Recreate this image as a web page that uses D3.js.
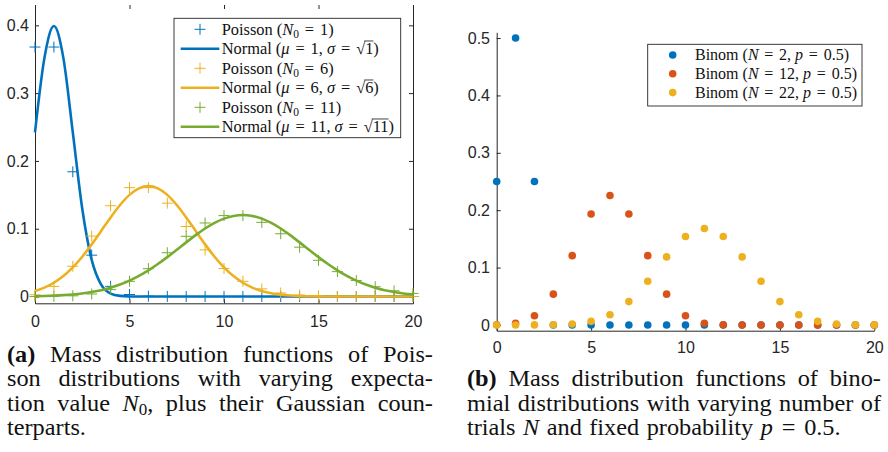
<!DOCTYPE html>
<html>
<head>
<meta charset="utf-8">
<script src="https://cdn.jsdelivr.net/npm/d3@7"></script>
<style>
  body { margin: 0; background: #fff; }
  svg { display: block; }
</style>
</head>
<body>
<div id="chart"></div>
<script>
// ---- data ----
const kValues = [0, 1, 2, 3, 4, 5, 6, 7, 8, 9, 10, 11, 12, 13, 14, 15, 16, 17, 18, 19, 20];

const poisson1 = [0.368, 0.368, 0.184, 0.061, 0.015, 0.003, 0.0005, 0.0001, 0, 0, 0, 0, 0, 0, 0, 0, 0, 0, 0, 0, 0];
const poisson6 = [0.0025, 0.0149, 0.0446, 0.0892, 0.1339, 0.1606, 0.1606, 0.1377, 0.1033, 0.0688, 0.0413, 0.0225, 0.0113, 0.0052, 0.0022, 0.0009, 0.0003, 0.0001, 0, 0, 0];
const poisson11 = [0, 0.0002, 0.001, 0.0037, 0.0102, 0.0224, 0.0411, 0.0646, 0.0888, 0.1085, 0.1194, 0.1194, 0.1094, 0.0926, 0.0728, 0.0534, 0.0367, 0.0237, 0.0145, 0.0084, 0.0046];

const normalX = [0, 0.5, 1, 1.5, 2, 2.5, 3, 3.5, 4, 4.5, 5, 5.5, 6, 6.5, 7, 7.5, 8, 8.5, 9, 9.5, 10,
  10.5, 11, 11.5, 12, 12.5, 13, 13.5, 14, 14.5, 15, 15.5, 16, 16.5, 17, 17.5, 18, 18.5, 19, 19.5, 20];
const normal1 = [0.242, 0.352, 0.399, 0.352, 0.242, 0.1295, 0.054, 0.0175, 0.0044, 0.0009, 0.0001,
  0, 0, 0, 0, 0, 0, 0, 0, 0, 0, 0, 0, 0, 0, 0, 0, 0, 0, 0, 0, 0, 0, 0, 0, 0, 0, 0, 0, 0, 0];
const normal6 = [0.0081, 0.0131, 0.0203, 0.0301, 0.0429, 0.0587, 0.0769, 0.0968, 0.1167, 0.135, 0.1499, 0.1595, 0.1629,
  0.1595, 0.1499, 0.135, 0.1167, 0.0968, 0.0769, 0.0587, 0.0429, 0.0301, 0.0203, 0.0131, 0.0081,
  0.0048, 0.0028, 0.0015, 0.0008, 0.0004, 0.0002, 0.0001, 0, 0, 0, 0, 0, 0, 0, 0, 0];
const normal11 = [0.0005, 0.0008, 0.0013, 0.002, 0.003, 0.0045, 0.0066, 0.0093, 0.013, 0.0176, 0.0234, 0.0304,
  0.0386, 0.0479, 0.0581, 0.0689, 0.0799, 0.0905, 0.1003, 0.1086, 0.1149, 0.1189, 0.1203,
  0.1189, 0.1149, 0.1086, 0.1003, 0.0905, 0.0799, 0.0689, 0.0581, 0.0479, 0.0386, 0.0304, 0.0234,
  0.0176, 0.013, 0.0093, 0.0066, 0.0045, 0.003];

const binom2 = [0.25, 0.5, 0.25, 0, 0, 0, 0, 0, 0, 0, 0, 0, 0, 0, 0, 0, 0, 0, 0, 0, 0];
const binom12 = [0.0002, 0.0029, 0.0161, 0.0537, 0.1208, 0.1934, 0.2256, 0.1934, 0.1208, 0.0537, 0.0161, 0.0029, 0.0002, 0, 0, 0, 0, 0, 0, 0, 0];
const binom22 = [0, 0, 0.0001, 0.0004, 0.0017, 0.0063, 0.0178, 0.0407, 0.0762, 0.1186, 0.1542, 0.1682, 0.1542, 0.1186, 0.0762, 0.0407, 0.0178, 0.0063, 0.0017, 0.0004, 0.0001];

const xTicks = [0, 5, 10, 15, 20];
const yTicksA = [0, 0.1, 0.2, 0.3, 0.4];
const yTicksB = [0, 0.1, 0.2, 0.3, 0.4, 0.5];

// label pieces: t = text, i = italic, sub = subscript, ov = overline, b = bold, eq = wide "=" sign
const EQ = { t: "=", eq: 1 };
const legendA = [
  [{ t: "Poisson (" }, { t: "N", i: 1 }, { t: "0", sub: 1 }, EQ, { t: "1)" }],
  [{ t: "Normal (" }, { t: "μ", i: 1 }, EQ, { t: "1, " }, { t: "σ", i: 1 }, EQ, { t: "√" }, { t: "1", ov: 1 }, { t: ")" }],
  [{ t: "Poisson (" }, { t: "N", i: 1 }, { t: "0", sub: 1 }, EQ, { t: "6)" }],
  [{ t: "Normal (" }, { t: "μ", i: 1 }, EQ, { t: "6, " }, { t: "σ", i: 1 }, EQ, { t: "√" }, { t: "6", ov: 1 }, { t: ")" }],
  [{ t: "Poisson (" }, { t: "N", i: 1 }, { t: "0", sub: 1 }, EQ, { t: "11)" }],
  [{ t: "Normal (" }, { t: "μ", i: 1 }, EQ, { t: "11, " }, { t: "σ", i: 1 }, EQ, { t: "√" }, { t: "11", ov: 1 }, { t: ")" }]
];
const legendB = [
  [{ t: "Binom (" }, { t: "N", i: 1 }, EQ, { t: "2, " }, { t: "p", i: 1 }, EQ, { t: "0.5)" }],
  [{ t: "Binom (" }, { t: "N", i: 1 }, EQ, { t: "12, " }, { t: "p", i: 1 }, EQ, { t: "0.5)" }],
  [{ t: "Binom (" }, { t: "N", i: 1 }, EQ, { t: "22, " }, { t: "p", i: 1 }, EQ, { t: "0.5)" }]
];

const captionA = [
  [[{ t: "(a)", b: 1 }], "Mass", "distribution", "functions", "of", "Pois-"],
  ["son", "distributions", "with", "varying", "expecta-"],
  ["tion", "value", [{ t: "N", i: 1 }, { t: "0", sub: 1 }, { t: "," }], "plus", "their", "Gaussian", "coun-"],
  ["terparts."]
];
const captionB = [
  [[{ t: "(b)", b: 1 }], "Mass", "distribution", "functions", "of", "bino-"],
  ["mial", "distributions", "with", "varying", "number", "of"],
  ["trials", [{ t: "N", i: 1 }], "and", "fixed", "probability", [{ t: "p", i: 1 }, EQ, { t: "0.5." }]]
];

const blue = "#0072BD", orange = "#D95319", yellow = "#EDB120", green = "#77AC30";
const ink = "#262626";
const serif = "'Liberation Serif', 'Times New Roman', serif";
const sans = "'Liberation Sans', Arial, Helvetica, sans-serif";

const svg = d3.select("#chart").append("svg")
  .attr("width", 888)
  .attr("height", 452);

// draws a run of label pieces starting at (x, y); returns its width
function rich(g, x, y, pieces, size) {
  let cx = x;
  pieces.forEach(p => {
    const fs = p.sub ? size * 0.7 : size;
    const pad = p.eq ? size * 0.36 : 0;
    cx += pad;
    const t = g.append("text")
      .attr("x", cx)
      .attr("y", y + (p.sub ? size * 0.2 : 0))
      .attr("font-family", serif)
      .attr("font-size", fs)
      .attr("font-style", p.i ? "italic" : "normal")
      .attr("font-weight", p.b ? "bold" : "normal")
      .attr("fill", "#111")
      .style("white-space", "pre")
      .text(p.t);
    const w = t.node().getComputedTextLength();
    if (p.ov) {
      g.append("line")
        .attr("x1", cx - 1).attr("x2", cx + w)
        .attr("y1", y - size * 0.8).attr("y2", y - size * 0.8)
        .attr("stroke", "#111").attr("stroke-width", 0.8);
    }
    cx += w + pad;
  });
  return cx - x;
}

// justified caption; words are widened a little (Computer Modern is wider than Times)
function paragraph(lines, x, y0, width, lineGap, size, stretch) {
  lines.forEach((words, li) => {
    const y = y0 + li * lineGap;
    const parts = words.map(w => {
      const gg = svg.append("g");
      const wd = rich(gg, 0, 0, typeof w === "string" ? [{ t: w }] : w, size) * stretch;
      return { gg, wd };
    });
    const total = d3.sum(parts, d => d.wd);
    const last = li === lines.length - 1;
    const gap = last ? size * 0.33 : (width - total) / (parts.length - 1);
    let cx = x;
    parts.forEach(d => {
      d.gg.attr("transform", "translate(" + cx + "," + y + ") scale(" + stretch + ",1)");
      cx += d.wd + gap;
    });
  });
}

// natural width of a caption line, used to pick one common widening factor
function lineWidth(words, size) {
  const tmp = svg.append("g");
  const w = d3.sum(words, wd => rich(tmp, 0, 0, typeof wd === "string" ? [{ t: wd }] : wd, size));
  tmp.remove();
  return w;
}

function styleAxis(g) {
  g.selectAll("path.domain").attr("stroke", ink).attr("stroke-width", 1);
  g.selectAll(".tick line").attr("stroke", ink).attr("stroke-width", 1);
  g.selectAll(".tick text").attr("fill", ink).attr("font-family", sans).attr("font-size", 16);
}

const yFmt = d => (d === 0 ? "0" : d3.format(".1f")(d));

// ---- panel (a) ----
const xA = d3.scaleLinear().domain([0, 20]).range([35, 413]);
const yA = d3.scaleLinear().domain([-0.01, 0.43]).range([303.3, 5]);

svg.append("g")
  .attr("transform", "translate(" + xA(0) + ",0)")
  .call(d3.axisLeft(yA).tickValues(yTicksA).tickFormat(yFmt).tickSizeInner(-4).tickSizeOuter(0).tickPadding(6))
  .call(styleAxis);
svg.append("g")
  .attr("transform", "translate(" + xA(20) + ",0)")
  .call(d3.axisRight(yA).tickValues(yTicksA).tickFormat("").tickSizeInner(-4).tickSizeOuter(0))
  .call(styleAxis);
svg.append("g")
  .attr("transform", "translate(0," + yA.range()[0] + ")")
  .call(d3.axisBottom(xA).tickValues(xTicks).tickSizeInner(-4).tickSizeOuter(0).tickPadding(12.6))
  .call(styleAxis);
svg.append("g")
  .attr("transform", "translate(0," + yA.range()[1] + ")")
  .call(d3.axisTop(xA).tickValues(xTicks).tickFormat("").tickSizeInner(-4).tickSizeOuter(0))
  .call(styleAxis)
  .call(g => g.select("path.domain").remove());

const crossPath = (cx, cy, s) => "M" + (cx - s) + "," + cy + "H" + (cx + s) + "M" + cx + "," + (cy - s) + "V" + (cy + s);

const seriesA = [
  { pts: poisson1, line: normal1, color: blue },
  { pts: poisson6, line: normal6, color: yellow },
  { pts: poisson11, line: normal11, color: green }
];
const normLine = d3.line()
  .x((d, i) => xA(normalX[i]))
  .y(d => yA(d))
  .curve(d3.curveMonotoneX);

seriesA.forEach(s => {
  svg.append("g")
    .selectAll("path")
    .data(s.pts)
    .enter()
    .append("path")
    .attr("d", (d, i) => crossPath(xA(kValues[i]), yA(d), 5.5))
    .attr("stroke", s.color)
    .attr("stroke-width", 1)
    .attr("fill", "none");
  svg.append("path")
    .datum(s.line)
    .attr("d", normLine)
    .attr("fill", "none")
    .attr("stroke", s.color)
    .attr("stroke-width", 2.6);
});

// legend (a)
const legA = svg.append("g");
legA.append("rect")
  .attr("x", 174).attr("y", 18.3).attr("width", 226.7).attr("height", 119.4)
  .attr("fill", "#fff").attr("stroke", ink).attr("stroke-width", 0.9);
legendA.forEach((lab, i) => {
  const y = 29.3 + i * 19.5;
  const color = seriesA[Math.floor(i / 2)].color;
  if (i % 2 === 0) {
    legA.append("path").attr("d", crossPath(200, y, 5.5)).attr("stroke", color).attr("stroke-width", 1);
  } else {
    legA.append("line").attr("x1", 180.7).attr("x2", 219.3).attr("y1", y).attr("y2", y)
      .attr("stroke", color).attr("stroke-width", 2.6);
  }
  rich(legA, 221.7, y + 5.3, lab, 16.4);
});

// ---- panel (b) ----
const xB = d3.scaleLinear().domain([0, 20]).range([496.7, 874.3]);
const yB = d3.scaleLinear().domain([-0.01, 0.51]).range([330.7, 32.3]);

svg.append("g")
  .attr("transform", "translate(" + xB(0) + ",0)")
  .call(d3.axisLeft(yB).tickValues(yTicksB).tickFormat(yFmt).tickSizeInner(-4).tickSizeOuter(0).tickPadding(6.7))
  .call(styleAxis);
svg.append("g")
  .attr("transform", "translate(0," + yB.range()[0] + ")")
  .call(d3.axisBottom(xB).tickValues(xTicks).tickSizeInner(-4).tickSizeOuter(0).tickPadding(11))
  .call(styleAxis);

const seriesB = [
  { vals: binom2, color: blue },
  { vals: binom12, color: orange },
  { vals: binom22, color: yellow }
];
seriesB.forEach(s => {
  svg.append("g")
    .selectAll("circle")
    .data(s.vals)
    .enter()
    .append("circle")
    .attr("cx", (d, i) => xB(kValues[i]))
    .attr("cy", d => yB(d))
    .attr("r", 3.8)
    .attr("fill", s.color);
});

// legend (b)
const legB = svg.append("g");
legB.append("rect")
  .attr("x", 647.7).attr("y", 44.3).attr("width", 214.3).attr("height", 61.7)
  .attr("fill", "#fff").attr("stroke", ink).attr("stroke-width", 0.9);
legendB.forEach((lab, i) => {
  const y = 55 + i * 18.8;
  legB.append("circle").attr("cx", 672.7).attr("cy", y).attr("r", 3.8).attr("fill", seriesB[i].color);
  rich(legB, 695, y + 5.2, lab, 16);
});

// ---- captions ----
const capSize = 22.5;
const capLines = [
  { words: captionA[0], w: 426 }, { words: captionA[1], w: 426 }, { words: captionA[2], w: 426 },
  { words: captionB[0], w: 414 }, { words: captionB[1], w: 414 }
];
const stretch = d3.min(capLines, l => (l.w - (l.words.length - 1) * capSize * 0.33) / lineWidth(l.words, capSize));
paragraph(captionA, 7, 362, 426, 24.3, capSize, stretch);
paragraph(captionB, 467, 386.3, 414, 24.3, capSize, stretch);
</script>
</body>
</html>
